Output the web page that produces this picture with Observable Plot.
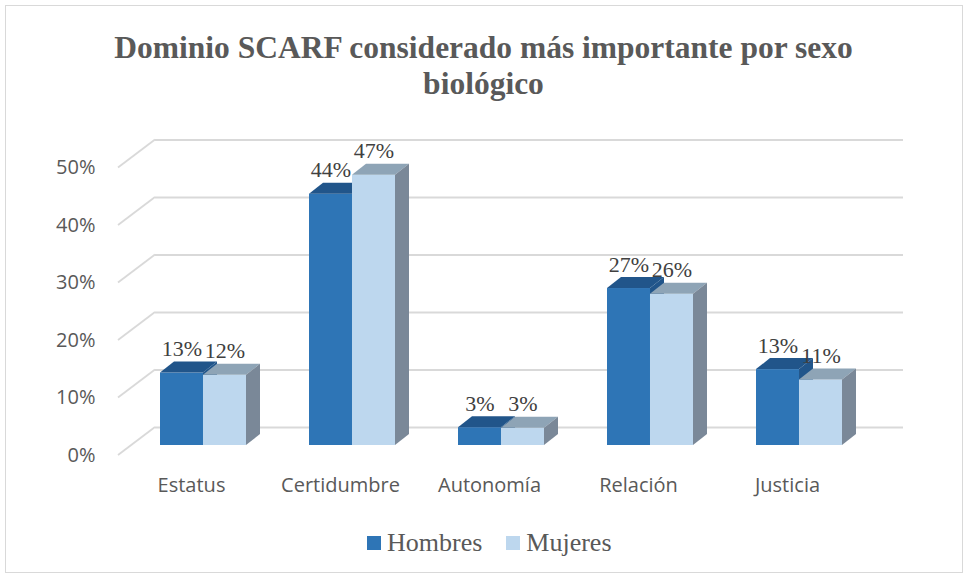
<!DOCTYPE html>
<html>
<head>
<meta charset="utf-8">
<script src="https://cdn.jsdelivr.net/npm/d3@7"></script>
<script src="https://cdn.jsdelivr.net/npm/@observablehq/plot@0.6"></script>
<style>
  html, body { margin: 0; padding: 0; background: #fff; }
  #wrap { position: relative; width: 967px; height: 580px; background: #fff; overflow: hidden; }
  #border { position: absolute; left: 5px; top: 5px; width: 958px; height: 568px; border: 1.5px solid #D9D9D9; box-sizing: border-box; }
  #title { position: absolute; top: 30px; left: 0; width: 967px; text-align: center; white-space: nowrap;
           font: bold 31.5px "Liberation Serif", "Times New Roman", serif; line-height: 36px; color: #595959; }
  #chart { position: absolute; top: 110px; left: 0; }
  #legend { position: absolute; top: 529px; left: 367px; display: flex; align-items: center; white-space: nowrap;
            font: 26px "Liberation Serif", "Times New Roman", serif; color: #595959; line-height: 28px; }
  .sw { width: 14px; height: 14px; display: inline-block; margin-right: 6px; }
  .item { display: flex; align-items: center; margin-right: 24px; }
</style>
</head>
<body>
<div id="wrap">
  <div id="border"></div>
  <div id="title">Dominio SCARF considerado más importante por sexo<br>biológico</div>
  <div id="chart"></div>
  <div id="legend"></div>
</div>
<script>
// ---- data ----
const categories = ["Estatus", "Certidumbre", "Autonomía", "Relación", "Justicia"];
const seriesNames = ["Hombres", "Mujeres"];
const hombres = [0.126, 0.437, 0.031, 0.273, 0.132];
const mujeres = [0.122, 0.470, 0.030, 0.263, 0.114];
const yTicks = [0, 0.1, 0.2, 0.3, 0.4, 0.5];

// ---- styles ----
const colors = {
  Hombres: { front: "#2E75B6", top: "#21558A", side: "#21558A" },
  Mujeres: { front: "#BDD7EE", top: "#8EA4B6", side: "#7A8898" }
};
const depthX = 14, depthY = 11;
const fmt = d3.format(".0%");
const serif = "Liberation Serif, Times New Roman, serif";
const sans = "Open Sans, sans-serif";

const data = categories.flatMap((c, i) => [
  { cat: c, sexo: seriesNames[0], value: hombres[i] },
  { cat: c, sexo: seriesNames[1], value: mujeres[i] }
]);
const hData = data.filter(d => d.sexo === "Hombres");
const mData = data.filter(d => d.sexo === "Mujeres");

const W = 967, H = 400, mL = 155, mR = 64, mT = 47.5, mB = 65;
const xOpts = { type: "band", domain: categories, paddingInner: 0.426, paddingOuter: 0.21, align: 0.079 };
const bw = Plot.scale({ x: { ...xOpts, range: [mL, W - mR] } }).bandwidth;
const half = bw / 2;

const plot = Plot.plot({
  width: W, height: H,
  marginLeft: mL, marginRight: mR, marginTop: mT, marginBottom: mB,
  x: { ...xOpts, axis: null },
  y: { domain: [0, 0.5], axis: null },
  style: { background: "transparent", overflow: "visible" },
  marks: [
    Plot.ruleY(yTicks, { y: d => d, dy: -18, stroke: "#D9D9D9", strokeWidth: 1.8 }),
    Plot.barY(hData, { x: "cat", y: "value", fill: colors.Hombres.front, insetRight: half }),
    Plot.barY(mData, { x: "cat", y: "value", fill: colors.Mujeres.front, insetLeft: half }),
    Plot.text(hData, { x: "cat", y: "value", text: d => fmt(d.value), dx: -half / 2, dy: -24,
      fontFamily: serif, fontSize: 22, fill: "#404040" }),
    Plot.text(mData, { x: "cat", y: "value", text: d => fmt(d.value), dx: half / 2, dy: -24,
      fontFamily: serif, fontSize: 22, fill: "#404040" }),
    Plot.text(categories, { x: d => d, y: () => 0, text: d => d, dx: -12, dy: 40,
      fontFamily: sans, fontSize: 20, fill: "#595959" }),
    Plot.text(yTicks, { y: d => d, text: d => fmt(d), frameAnchor: "left", dx: -60, dy: 10, textAnchor: "end",
      fontFamily: sans, fontSize: 20, fill: "#595959" })
  ]
});

// ---- 3D faces & floor diagonals, derived from the plot's own output/scales ----
const NS = "http://www.w3.org/2000/svg";
const barGroups = Array.from(plot.querySelectorAll('g[aria-label="bar"]'));
function addFaces(g, c) {
  if (!g) return;
  const rects = Array.from(g.querySelectorAll("rect"));
  for (const r of rects) {
    const x = +r.getAttribute("x"), y = +r.getAttribute("y");
    const w = +r.getAttribute("width"), h = +r.getAttribute("height");
    const top = document.createElementNS(NS, "polygon");
    top.setAttribute("points", `${x},${y} ${x + depthX},${y - depthY} ${x + w + depthX},${y - depthY} ${x + w},${y}`);
    top.setAttribute("fill", c.top);
    const side = document.createElementNS(NS, "polygon");
    side.setAttribute("points", `${x + w},${y} ${x + w + depthX},${y - depthY} ${x + w + depthX},${y + h - depthY} ${x + w},${y + h}`);
    side.setAttribute("fill", c.side);
    g.appendChild(top);
    g.appendChild(side);
  }
}
addFaces(barGroups[0], colors.Hombres);
addFaces(barGroups[1], colors.Mujeres);

const ys = plot.scale("y");
const grid = plot.querySelector('g[aria-label="rule"]');
const diag = document.createElementNS(NS, "g");
diag.setAttribute("stroke", "#D9D9D9");
diag.setAttribute("stroke-width", "1.8");
for (const t of yTicks) {
  const yv = ys.apply(t);
  const ln = document.createElementNS(NS, "line");
  ln.setAttribute("x1", mL - 37); ln.setAttribute("y1", yv + 10);
  ln.setAttribute("x2", mL); ln.setAttribute("y2", yv - 18);
  diag.appendChild(ln);
}
if (grid) grid.parentNode.insertBefore(diag, grid); else plot.insertBefore(diag, plot.firstChild);

document.getElementById("chart").appendChild(plot);

// ---- legend ----
const legend = document.getElementById("legend");
for (const s of seriesNames) {
  const item = document.createElement("span");
  item.className = "item";
  const sw = document.createElement("span");
  sw.className = "sw";
  sw.style.background = colors[s].front;
  item.appendChild(sw);
  item.appendChild(document.createTextNode(s));
  legend.appendChild(item);
}
</script>
</body>
</html>
